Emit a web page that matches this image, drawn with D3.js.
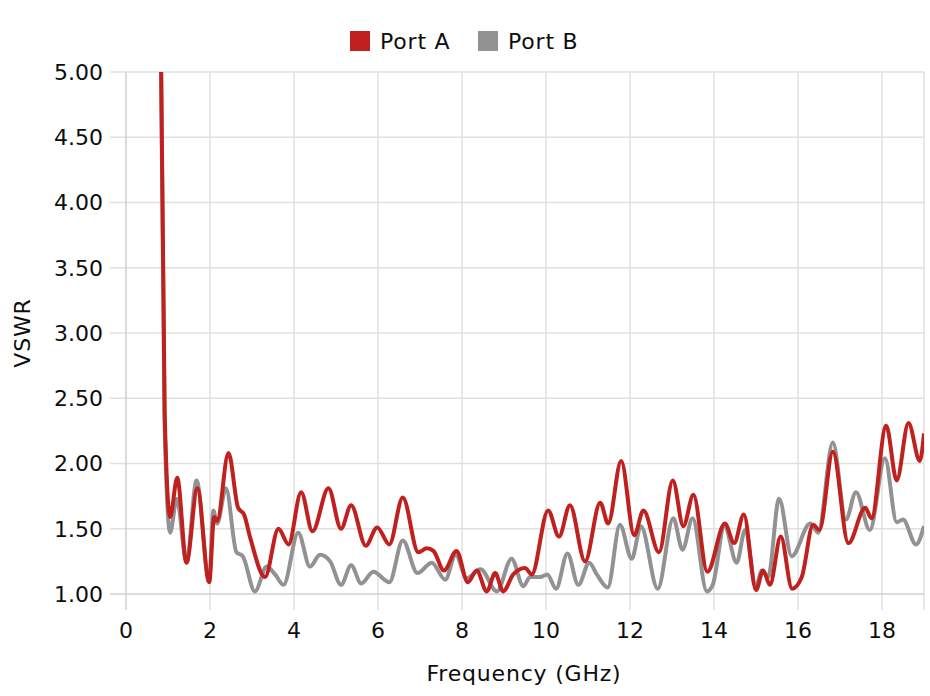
<!DOCTYPE html>
<html>
<head>
<meta charset="utf-8">
<title>VSWR</title>
<style>
  body { margin: 0; background: #fff; }
  svg text { font-family: "DejaVu Sans", "Noto Sans", sans-serif; fill: #0d0d0d; }
  .wide { letter-spacing: 0.8px; }
</style>
</head>
<body>
<svg id="chart" width="930" height="696"></svg>
<script src="https://cdn.jsdelivr.net/npm/d3@7/dist/d3.min.js"></script>
<script>
// frequency (GHz) / VSWR
const freqA = [0.80, 0.92, 1.05, 1.22, 1.44, 1.70, 1.98, 2.10, 2.17, 2.44, 2.67, 2.81, 2.95, 3.31, 3.63, 3.87,
  4.17, 4.44, 4.82, 5.12, 5.36, 5.71, 5.98, 6.27, 6.59, 6.96, 7.16, 7.32, 7.57, 7.87, 8.14, 8.35, 8.59, 8.79, 8.98,
  9.22, 9.50, 9.66, 10.05, 10.31, 10.57, 10.93, 11.29, 11.48, 11.79, 12.10, 12.32, 12.69, 13.02, 13.27, 13.51,
  13.84, 14.26, 14.48, 14.71, 15.00, 15.17, 15.33, 15.59, 15.86, 16.09, 16.36, 16.51, 16.83, 17.20, 17.60,
  17.75, 18.10, 18.35, 18.63, 18.90, 19.00];
const vswrA = [6.20, 2.40, 1.59, 1.89, 1.24, 1.81, 1.09, 1.59, 1.56, 2.08, 1.66, 1.61, 1.44, 1.13, 1.50, 1.38,
  1.78, 1.48, 1.81, 1.50, 1.68, 1.37, 1.51, 1.38, 1.74, 1.32, 1.35, 1.33, 1.18, 1.33, 1.09, 1.18, 1.02, 1.16, 1.02,
  1.15, 1.20, 1.15, 1.64, 1.44, 1.68, 1.25, 1.70, 1.54, 2.02, 1.45, 1.64, 1.32, 1.87, 1.52, 1.76,
  1.17, 1.54, 1.39, 1.61, 1.03, 1.18, 1.07, 1.44, 1.04, 1.13, 1.53, 1.49, 2.09, 1.39, 1.66,
  1.58, 2.29, 1.87, 2.31, 2.02, 2.23];

const freqB = [0.80, 0.92, 1.05, 1.21, 1.44, 1.68, 1.98, 2.08, 2.17, 2.38, 2.63, 2.78, 3.07, 3.35, 3.55, 3.75,
  4.10, 4.38, 4.62, 4.86, 5.12, 5.36, 5.60, 5.89, 6.27, 6.59, 6.94, 7.28, 7.60, 7.85, 8.11, 8.44, 8.83, 9.18,
  9.46, 9.62, 9.86, 10.03, 10.24, 10.51, 10.77, 11.03, 11.21, 11.47, 11.76, 12.04, 12.26, 12.66, 13.03, 13.25,
  13.49, 13.83, 13.97, 14.25, 14.54, 14.74, 15.00, 15.14, 15.29, 15.55, 15.85, 16.29, 16.48, 16.83, 17.14,
  17.38, 17.71, 18.07, 18.35, 18.50, 18.81, 19.00];
const vswrB = [6.10, 2.30, 1.47, 1.73, 1.24, 1.87, 1.10, 1.64, 1.54, 1.81, 1.32, 1.29, 1.02, 1.21, 1.15, 1.07,
  1.47, 1.21, 1.30, 1.25, 1.07, 1.22, 1.08, 1.17, 1.09, 1.41, 1.16, 1.24, 1.11, 1.30, 1.12, 1.19, 1.02, 1.27,
  1.06, 1.13, 1.13, 1.15, 1.04, 1.31, 1.07, 1.24, 1.15, 1.05, 1.53, 1.27, 1.52, 1.04, 1.58, 1.34,
  1.58, 1.02, 1.07, 1.52, 1.24, 1.49, 1.06, 1.18, 1.13, 1.73, 1.29, 1.54, 1.47, 2.16, 1.57,
  1.78, 1.49, 2.04, 1.55, 1.57, 1.38, 1.52];

const seriesNames = ["Port A", "Port B"];
const seriesColors = ["#c0201e", "#929292"];
const xTicks = [0, 2, 4, 6, 8, 10, 12, 14, 16, 18];
const yTicks = [1.0, 1.5, 2.0, 2.5, 3.0, 3.5, 4.0, 4.5, 5.0];

const margin = { top: 72, right: 6, bottom: 102, left: 126 };
const W = 930, H = 696;
const width = W - margin.left - margin.right;
const height = H - margin.top - margin.bottom;

const svg = d3.select("#chart");
const g = svg.append("g").attr("transform", `translate(${margin.left},${margin.top})`);

const x = d3.scaleLinear().domain([0, 19]).range([0, width]);
const y = d3.scaleLinear().domain([1, 5]).range([height, 0]);

// grid
g.append("g").selectAll("line").data(yTicks.slice(1)).join("line")
  .attr("x1", -16).attr("x2", width)
  .attr("y1", d => y(d)).attr("y2", d => y(d))
  .attr("stroke", "#e0e0e0").attr("stroke-width", 1.5);
g.append("g").selectAll("line").data(xTicks.slice(1).concat([19])).join("line")
  .attr("x1", d => x(d)).attr("x2", d => x(d))
  .attr("y1", 0).attr("y2", height + 16)
  .attr("stroke", "#e0e0e0").attr("stroke-width", 1.5);

// axis lines
g.append("line").attr("x1", 0).attr("x2", 0).attr("y1", 0).attr("y2", height + 16)
  .attr("stroke", "#d0d0d0").attr("stroke-width", 1.5);
g.append("line").attr("x1", -16).attr("x2", width).attr("y1", height).attr("y2", height)
  .attr("stroke", "#d0d0d0").attr("stroke-width", 1.5);

// tick labels
g.append("g").selectAll("text").data(yTicks).join("text")
  .attr("x", -23).attr("y", d => y(d)).attr("dy", "0.36em")
  .attr("text-anchor", "end").attr("font-size", 22)
  .text(d => d3.format(".2f")(d));
g.append("g").selectAll("text").data(xTicks).join("text")
  .attr("x", d => x(d)).attr("y", height + 36).attr("dy", "0.36em")
  .attr("text-anchor", "middle").attr("font-size", 22)
  .text(d => d);

// axis titles
svg.append("text").attr("class", "wide")
  .attr("transform", `translate(30,${margin.top + height / 2}) rotate(-90)`)
  .attr("text-anchor", "middle").attr("font-size", 22).text("VSWR");
svg.append("text").attr("class", "wide")
  .attr("x", margin.left + width / 2 - 1).attr("y", 681)
  .attr("text-anchor", "middle").attr("font-size", 22).text("Frequency (GHz)");

// lines
g.append("clipPath").attr("id", "plotClip")
  .append("rect").attr("x", 0).attr("y", 0).attr("width", width).attr("height", height);

const line = d3.line().x(d => x(d[0])).y(d => y(d[1])).curve(d3.curveMonotoneX);
const dataB = freqB.map((f, i) => [f, vswrB[i]]);
const dataA = freqA.map((f, i) => [f, vswrA[i]]);
const plot = g.append("g").attr("clip-path", "url(#plotClip)");
plot.append("path").datum(dataB).attr("d", line)
  .attr("fill", "none").attr("stroke", seriesColors[1]).attr("stroke-width", 4)
  .attr("stroke-linejoin", "round");
plot.append("path").datum(dataA).attr("d", line)
  .attr("fill", "none").attr("stroke", seriesColors[0]).attr("stroke-width", 4)
  .attr("stroke-linejoin", "round");

// legend
const legendX = [350, 478];
const leg = svg.append("g").selectAll("g").data(seriesNames).join("g")
  .attr("transform", (d, i) => `translate(${legendX[i]},31)`);
leg.append("rect").attr("width", 20).attr("height", 20).attr("fill", (d, i) => seriesColors[i]);
leg.append("text").attr("class", "wide").attr("x", 30).attr("y", 10).attr("dy", "0.36em")
  .attr("font-size", 22).text(d => d);
</script>
</body>
</html>
